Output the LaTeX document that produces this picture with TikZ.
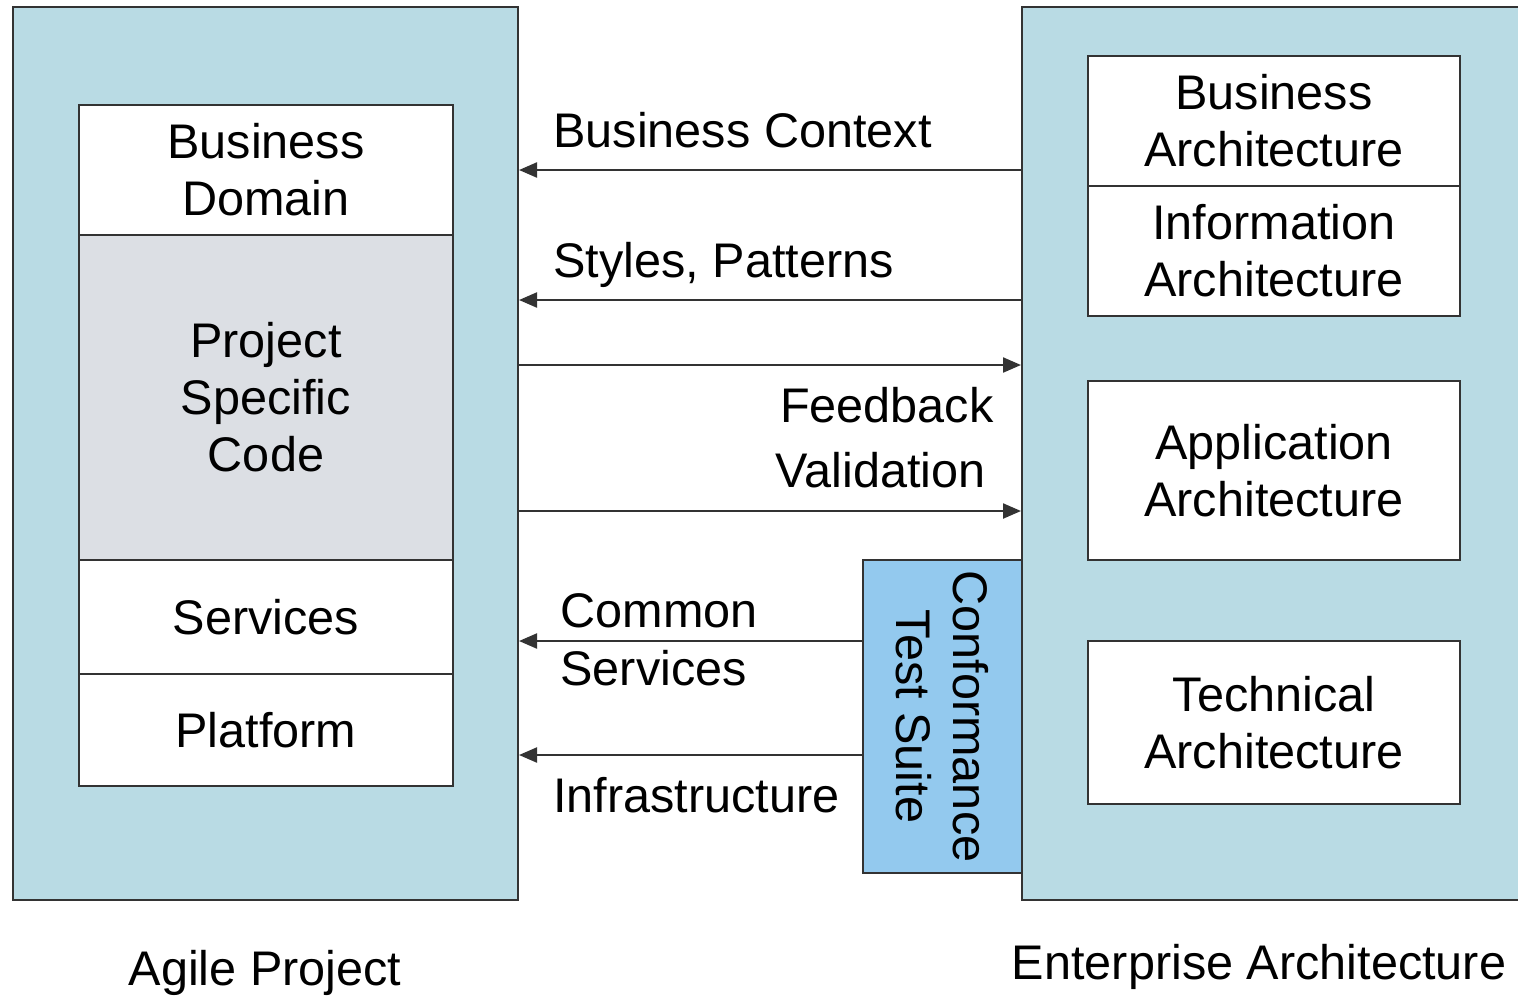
\documentclass[tikz,border=0pt]{standalone}
\usepackage{fontspec}
\setmainfont{Liberation Sans}
\usetikzlibrary{arrows.meta}
\definecolor{paleblue}{HTML}{B9DBE4}
\definecolor{codegray}{HTML}{DCDFE4}
\definecolor{ctsblue}{HTML}{93C9EE}
\definecolor{edge}{HTML}{333333}
\tikzset{
  box/.style={draw=edge, line width=1pt, inner sep=0pt, align=center, font=\fontsize{24.3}{28.5}\selectfont},
  lbl/.style={inner sep=0pt, font=\fontsize{24.3}{28.5}\selectfont},
  arr/.style={draw=edge, line width=1.1pt, -{Triangle[length=9pt,width=7.5pt]}}
}
\begin{document}
\begin{tikzpicture}[x=0.5pt,y=-0.5pt]
\useasboundingbox (0,0) rectangle (1518,997);
% outer containers
\node[box, fill=paleblue, minimum width=505*0.5pt, minimum height=893*0.5pt] (ap) at (265.5,453.5) {};
\node[box, fill=paleblue, minimum width=500*0.5pt, minimum height=893*0.5pt] (ea) at (1272,453.5) {};
% left stack
\node[box, fill=white, minimum width=374*0.5pt, minimum height=130*0.5pt] (bd) at (266,170) {Business\\Domain};
\node[box, fill=codegray, minimum width=374*0.5pt, minimum height=325*0.5pt] (psc) at (266,397.5) {Project\\Specific\\Code};
\node[box, fill=white, minimum width=374*0.5pt, minimum height=114*0.5pt] (sv) at (266,617) {Services};
\node[box, fill=white, minimum width=374*0.5pt, minimum height=112*0.5pt] (pf) at (266,730) {Platform};
% right stack
\node[box, fill=white, minimum width=372*0.5pt, minimum height=130*0.5pt] (ba) at (1274,121) {Business\\Architecture};
\node[box, fill=white, minimum width=372*0.5pt, minimum height=130*0.5pt] (ia) at (1274,251) {Information\\Architecture};
\node[box, fill=white, minimum width=372*0.5pt, minimum height=179*0.5pt] (aa) at (1274,470.5) {Application\\Architecture};
\node[box, fill=white, minimum width=372*0.5pt, minimum height=163*0.5pt] (ta) at (1274,722.5) {Technical\\Architecture};
% conformance test suite
\node[box, fill=ctsblue, minimum width=159*0.5pt, minimum height=313*0.5pt] (cts) at (942.5,716.5) {};
\node[lbl, align=center, rotate=-90] (ctstxt) at (cts.center) {Conformance\\Test Suite};
% connector end points
\coordinate (y170) at (0,170);
\coordinate (y300) at (0,300);
\coordinate (y365) at (0,365);
\coordinate (y511) at (0,511);
\coordinate (y641) at (0,641);
\coordinate (y755) at (0,755);
% connectors
\draw[arr] (ea.west |- y170) -- (ap.east |- y170);
\draw[arr] (ea.west |- y300) -- (ap.east |- y300);
\draw[arr] (ap.east |- y365) -- (ea.west |- y365);
\draw[arr] (ap.east |- y511) -- (ea.west |- y511);
\draw[arr] (cts.west |- y641) -- (ap.east |- y641);
\draw[arr] (cts.west |- y755) -- (ap.east |- y755);
% labels
\node[lbl, anchor=base west] (l1) at (553,147) {Business Context};
\node[lbl, anchor=base west] (l2) at (553,277) {Styles, Patterns};
\node[lbl, anchor=base east] (l3) at (994,422) {Feedback};
\node[lbl, anchor=base east] (l4) at (986,487) {Validation};
\node[lbl, anchor=base west] (l5) at (560,627) {Common};
\node[lbl, anchor=base west] (l6) at (560,685) {Services};
\node[lbl, anchor=base west] (l7) at (553,812) {Infrastructure};
\node[lbl, anchor=base] (l8) at (265,985) {Agile Project};
\node[lbl, anchor=base] (l9) at (1259,979) {Enterprise Architecture};
\end{tikzpicture}
\end{document}
